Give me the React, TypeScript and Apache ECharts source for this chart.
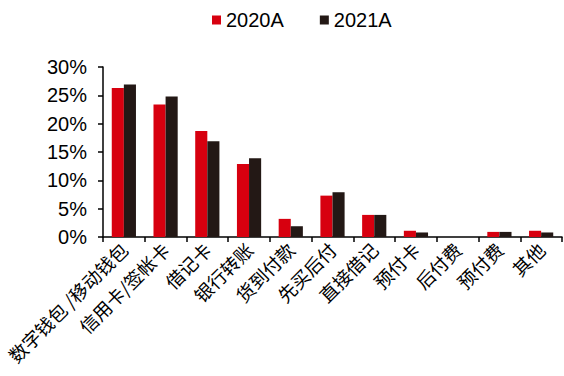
import React, { useEffect, useRef } from "react";
import * as echarts from "echarts";

// Payment method shares, 2020A vs 2021A (percent)
const categories = [
  "数字钱包 /移动钱包",
  "信用卡/签帐卡",
  "借记卡",
  "银行转账",
  "货到付款",
  "先买后付",
  "直接借记",
  "预付卡",
  "后付费",
  "预付费",
  "其他",
];
const values2020 = [26.3, 23.4, 18.7, 12.9, 3.2, 7.3, 3.9, 1.1, 0, 0.9, 1.1];
const values2021 = [26.9, 24.8, 16.9, 13.9, 1.9, 7.9, 3.9, 0.8, 0, 0.9, 0.8];
const seriesNames = ["2020A", "2021A"];
const colors = ["#d7000f", "#231815"];

export default function App() {
  const ref = useRef<HTMLDivElement>(null);

  useEffect(() => {
    if (!ref.current) return;
    const chart = echarts.init(ref.current, null, { renderer: "svg" });
    const font = "'Liberation Sans', Arial, sans-serif";
    chart.setOption({
      animation: false,
      color: colors,
      legend: {
        top: 5,
        left: 207,
        itemWidth: 9,
        itemHeight: 9,
        itemGap: 36,
        icon: "rect",
        textStyle: { fontFamily: font, fontSize: 20, color: "#000" },
        data: seriesNames,
      },
      grid: { left: 103, right: 2, top: 67, bottom: 139, containLabel: false },
      xAxis: {
        type: "category",
        data: categories,
        boundaryGap: true,
        axisLine: { lineStyle: { color: "#000", width: 1.5 } },
        axisTick: { show: true, length: 5, lineStyle: { color: "#000", width: 1.5 } },
        axisLabel: {
          rotate: 45,
          interval: 0,
          margin: 9,
          color: "#000",
          fontSize: 18.5,
          fontFamily: "'Noto Sans CJK SC', sans-serif",
        },
      },
      yAxis: {
        type: "value",
        min: 0,
        max: 30,
        interval: 5,
        splitLine: { show: false },
        axisLine: { show: true, lineStyle: { color: "#000", width: 1.5 } },
        axisTick: { show: true, length: 5, inside: false, lineStyle: { color: "#000", width: 1.5 } },
        axisLabel: {
          formatter: "{value}%",
          color: "#000",
          fontSize: 20,
          fontFamily: font,
          margin: 16,
        },
      },
      series: [
        {
          name: seriesNames[0],
          type: "bar",
          data: values2020,
          barGap: "0%",
          barCategoryGap: "42%",
        },
        {
          name: seriesNames[1],
          type: "bar",
          data: values2021,
          barGap: "0%",
          barCategoryGap: "42%",
        },
      ],
    });
    return () => chart.dispose();
  }, []);

  return (
    <div
      ref={ref}
      style={{ position: "absolute", left: 0, top: 0, width: 564, height: 376 }}
    />
  );
}
